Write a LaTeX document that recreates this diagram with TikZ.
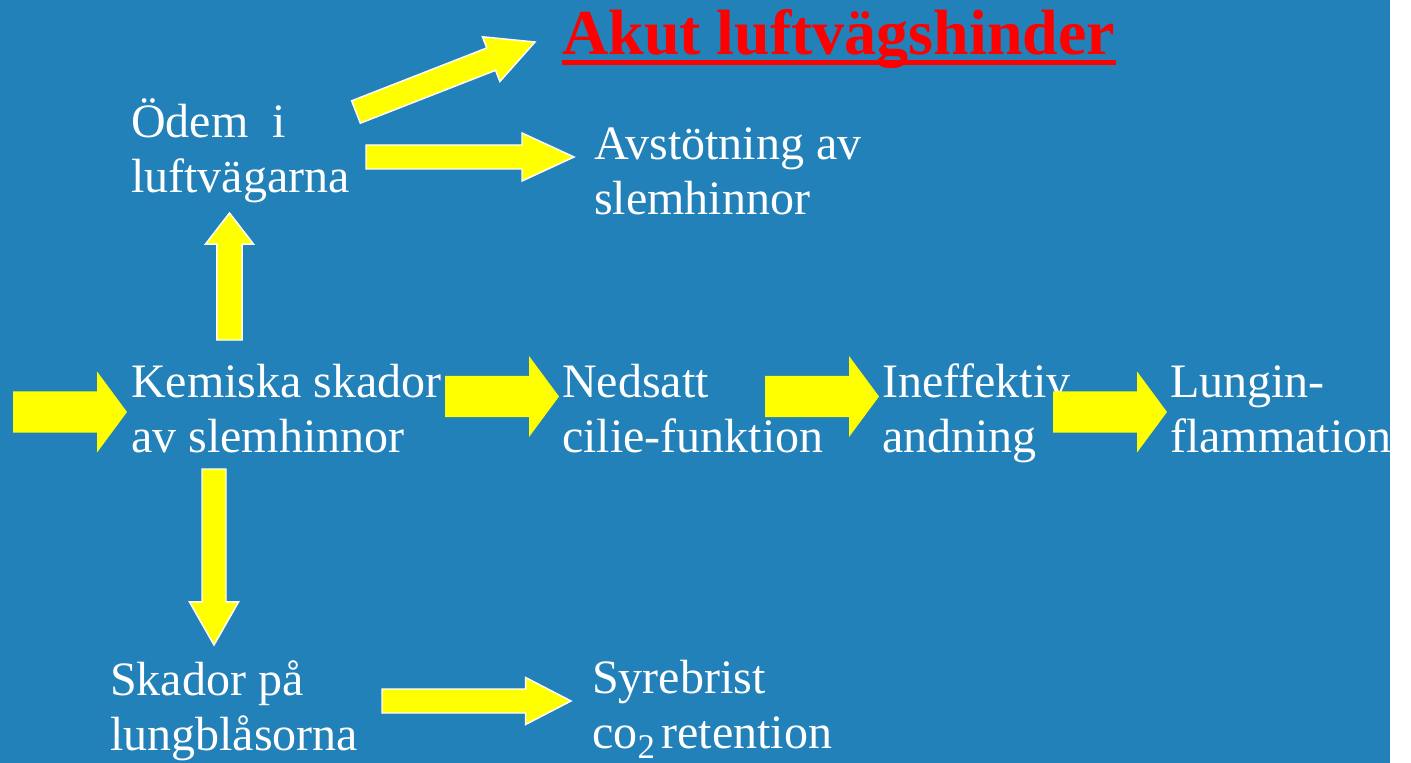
\documentclass[tikz,border=0pt]{standalone}
\usepackage{fontspec}
\setmainfont{Liberation Serif}
\usetikzlibrary{calc}
\definecolor{slideblue}{RGB}{34,129,184}
\definecolor{arrowyellow}{RGB}{255,255,0}
\tikzstyle{textblock} = [text=white, anchor=base west, inner sep=0pt, align=left,
    font=\fontsize{36}{41.25}\selectfont]
\tikzstyle{heading} = [text=red, anchor=base west, inner sep=0pt,
    font=\fontsize{48}{55}\selectfont\bfseries]
\tikzstyle{arrowlined} = [fill=arrowyellow, draw=white, line width=1.1pt]
\tikzstyle{arrowplain} = [fill=arrowyellow]
% block arrow: style, tail, tip, shaft half width, head half width, head length
\newcommand{\blockarrow}[6]{%
  \coordinate (neck) at ($(#3)!#6!(#2)$);
  \path [#1] ($(#2)!#4!90:(#3)$) -- ($(neck)!#4!90:(#3)$)
    -- ($(neck)!#5!90:(#3)$) -- (#3) -- ($(neck)!#5!-90:(#3)$)
    -- ($(neck)!#4!-90:(#3)$) -- ($(#2)!#4!-90:(#3)$) -- cycle;}

\begin{document}
\begin{tikzpicture}[x=0.75pt, y=-0.75pt]
		\useasboundingbox (0,0) rectangle (1411,763);
		\fill [slideblue] (0,0) rectangle (1390,763);
		% Draw nodes (placed at the baseline of their last line)
		\node [heading] (hinder) at (562,55) {Akut luftvägshinder};
		\draw [red, line width=3.75pt] ([yshift=-6pt]hinder.base west) -- ([yshift=-6pt]hinder.base east);
		\node [textblock] (odem) at (131,193) {Ödem\ \ i\\luftvägarna};
		\node [textblock] (avstot) at (594,215) {Avstötning av\\slemhinnor};
		\node [textblock] (kemiska) at (131,452) {Kemiska skador\\av slemhinnor};
		\node [textblock] (nedsatt) at (562,452) {Nedsatt\\cilie-funktion};
		\node [textblock] (ineff) at (882,452) {Ineffektiv\\andning};
		\node [textblock] (lungin) at (1170,452) {Lungin-\\flammation};
		\node [textblock] (skador) at (110,750) {Skador på\\lungblåsorna};
		\node [textblock] (syre) at (592,748) {Syrebrist\\co\raisebox{-8pt}{\fontsize{26}{26}\selectfont 2}\hspace{5pt}retention};
		% Arrow ends
		\coordinate (in) at (13,412);
		\coordinate (kemin) at (127,412);
		\coordinate (kemout) at (445,396.5);
		\coordinate (nedin) at (559,396.5);
		\coordinate (nedout) at (765,396.5);
		\coordinate (ineffin) at (879,396.5);
		\coordinate (ineffout) at (1053,412);
		\coordinate (lungin) at (1167,412);
		\coordinate (kemup) at (229.5,340);
		\coordinate (odemin) at (229.5,213);
		\coordinate (kemdown) at (214,469);
		\coordinate (skadorin) at (214,645);
		\coordinate (odemdiag) at (356,112);
		\coordinate (hinderin) at (535,42);
		\coordinate (odemout) at (366,157);
		\coordinate (avstotin) at (574,157);
		\coordinate (skadorout) at (382,701);
		\coordinate (syrein) at (571,701);
		% Draw arrows
		\blockarrow{arrowplain}{in}{kemin}{15.4pt}{30.4pt}{22.5pt}
		\blockarrow{arrowplain}{kemout}{nedin}{15.4pt}{30.4pt}{22.5pt}
		\blockarrow{arrowplain}{nedout}{ineffin}{15.4pt}{30.4pt}{22.5pt}
		\blockarrow{arrowplain}{ineffout}{lungin}{15.4pt}{30.4pt}{22.5pt}
		\blockarrow{arrowlined}{kemup}{odemin}{9.4pt}{18pt}{23.3pt}
		\blockarrow{arrowlined}{kemdown}{skadorin}{9pt}{18.4pt}{32.3pt}
		\blockarrow{arrowlined}{odemdiag}{hinderin}{9pt}{18pt}{35.3pt}
		\blockarrow{arrowlined}{odemout}{avstotin}{9pt}{18pt}{39pt}
		\blockarrow{arrowlined}{skadorout}{syrein}{9pt}{17.6pt}{34pt}
		\fill [white] (1390,0) rectangle (1411,763);
	\end{tikzpicture}
\end{document}
